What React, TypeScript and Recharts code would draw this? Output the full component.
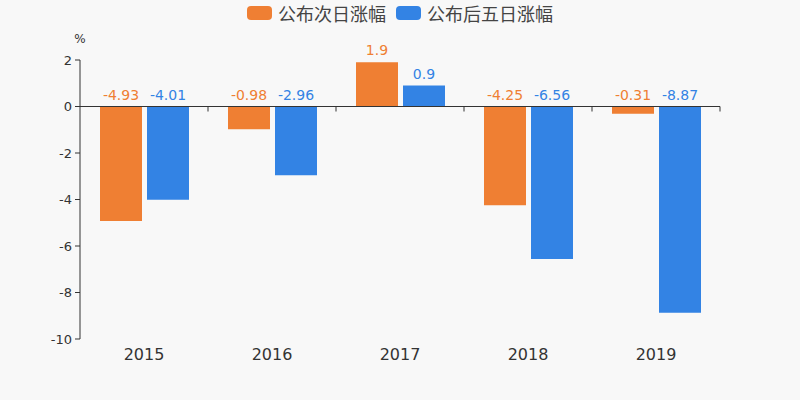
import { Bar, BarChart, LabelList, ReferenceLine, XAxis, YAxis } from 'recharts';

const years = ['2015', '2016', '2017', '2018', '2019'];
const nextDay = [-4.93, -0.98, 1.9, -4.25, -0.31];
const fiveDay = [-4.01, -2.96, 0.9, -6.56, -8.87];
const yTicks = [-10, -8, -6, -4, -2, 0, 2];

const ORANGE = '#ef7f33';
const BLUE = '#3383e4';
const AXIS = '#333';
const FONT = '"DejaVu Sans", "Noto Sans CJK SC", sans-serif';

const rows = years.map((year, i) => ({ year, nextDay: nextDay[i], fiveDay: fiveDay[i] }));

function valueLabel(color: string) {
  return (props: any) => {
    const { x, y, width, height, value } = props;
    const top = Math.min(Number(y), Number(y) + Number(height));
    return (
      <text
        x={Number(x) + Number(width) / 2}
        y={top - 7}
        textAnchor="middle"
        fill={color}
        fontSize={14}
        fontFamily={FONT}
      >
        {value}
      </text>
    );
  };
}

function ZeroAxis(props: any) {
  const { x1, y1, x2 } = props;
  const step = (x2 - x1) / years.length;
  return (
    <g>
      <line x1={x1} y1={y1} x2={x2} y2={y1} stroke={AXIS} strokeWidth={1} />
      {years.map((_, i) => (
        <line key={i} x1={x1 + step * (i + 1)} y1={y1} x2={x1 + step * (i + 1)} y2={y1 + 5} stroke={AXIS} />
      ))}
    </g>
  );
}

function LegendBar() {
  const items = [
    { label: '公布次日涨幅', color: ORANGE },
    { label: '公布后五日涨幅', color: BLUE },
  ];
  return (
    <div
      style={{
        position: 'absolute',
        top: 2,
        left: 0,
        width: 800,
        display: 'flex',
        justifyContent: 'center',
        gap: 10,
        fontFamily: '"Noto Sans CJK SC", sans-serif',
        fontSize: 18,
        color: '#444',
        lineHeight: '22px',
      }}
    >
      {items.map((it) => (
        <span key={it.label} style={{ display: 'flex', alignItems: 'center', gap: 6 }}>
          <span style={{ width: 25, height: 14, borderRadius: 4, background: it.color, display: 'inline-block' }} />
          {it.label}
        </span>
      ))}
    </div>
  );
}

export default function App() {
  return (
    <div style={{ position: 'absolute', left: 0, top: 0, width: 800, height: 400, background: '#f8f8f8' }}>
      <BarChart
        width={800}
        height={400}
        data={rows}
        margin={{ top: 60, right: 80, bottom: 31, left: 50 }}
        barSize={42}
        barGap={5}
      >
        <XAxis
          dataKey="year"
          height={30}
          axisLine={false}
          tickLine={false}
          tickSize={0}
          tickMargin={10}
          tick={{ fill: AXIS, fontSize: 16, fontFamily: FONT }}
        />
        <YAxis
          width={30}
          domain={[-10, 2]}
          ticks={yTicks}
          interval={0}
          axisLine={{ stroke: AXIS }}
          tickLine={{ stroke: AXIS }}
          tickSize={5}
          tickMargin={3}
          tick={{ fill: AXIS, fontSize: 13, fontFamily: FONT }}
          label={{
            position: 'top',
            content: (p: any) => {
              const vb = p.viewBox || {};
              return (
                <text x={vb.x + vb.width} y={vb.y - 17} textAnchor="middle" fill={AXIS} fontSize={12} fontFamily={FONT}>
                  %
                </text>
              );
            },
          }}
        />
        <ReferenceLine y={0} shape={ZeroAxis} />
        <Bar dataKey="nextDay" name="公布次日涨幅" fill={ORANGE} isAnimationActive={false}>
          <LabelList dataKey="nextDay" content={valueLabel(ORANGE)} />
        </Bar>
        <Bar dataKey="fiveDay" name="公布后五日涨幅" fill={BLUE} isAnimationActive={false}>
          <LabelList dataKey="fiveDay" content={valueLabel(BLUE)} />
        </Bar>
      </BarChart>
      <LegendBar />
    </div>
  );
}
